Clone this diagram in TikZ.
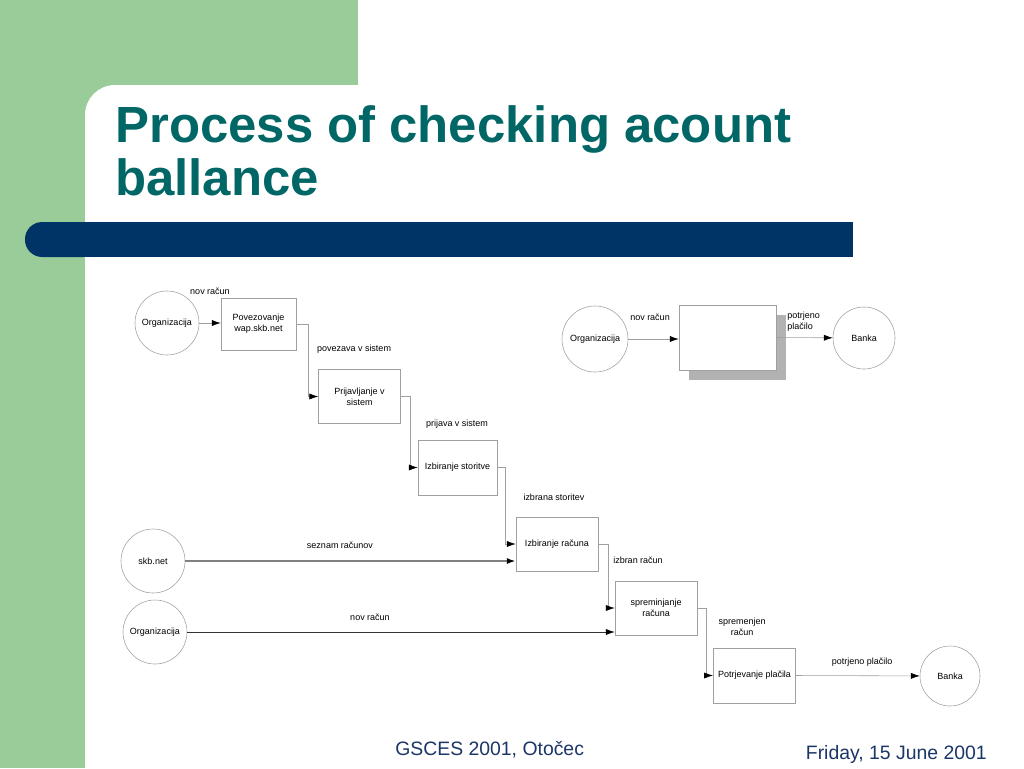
\documentclass[tikz,border=0pt]{standalone}
\usepackage{fontspec}
\setmainfont{Liberation Sans}
\usepackage{xcolor}
\usepackage{tikz}
\usetikzlibrary{positioning,calc,arrows.meta,shadows}

\definecolor{slidegreen}{HTML}{99CC99}
\definecolor{barblue}{HTML}{003366}
\definecolor{titleteal}{HTML}{006666}
\definecolor{footblue}{HTML}{1C3668}
\definecolor{linegray}{HTML}{A0A0A0}
\newcommand{\diag}{\fontsize{6.4}{7.8}\selectfont}

\begin{document}
\begin{tikzpicture}[x=0.25mm,y=-0.25mm,
    proc/.style={draw=linegray, rectangle, minimum width=20.5mm, minimum height=13.5mm, align=center, font=\diag},
    ext/.style={draw=linegray, circle, minimum size=16mm, inner sep=0pt, font=\diag},
    flow/.style={draw=linegray, -{Latex[length=2.2mm,width=1.5mm,color=black]}},
    lbl/.style={font=\diag, inner sep=0pt, align=center}]
    \useasboundingbox (0,0) rectangle (1024,768);

    % Slide background
    \fill[white] (0,0) rectangle (1024,768);
    \fill[slidegreen] (0,0) rectangle (358,768);
    \fill[white, rounded corners=7.5mm] (85,85) rectangle (1024,768);
    \fill[white] (85,300) rectangle (1024,768);
    \fill[barblue, rounded corners=4.3mm] (25,222) rectangle (100,257);
    \fill[barblue] (60,222) rectangle (853,257);

    \node[anchor=base west, text=titleteal, font=\fontsize{36.2}{40}\selectfont\bfseries, inner sep=0pt] (title1) at (115,142) {Process of checking acount};
    \node[anchor=base west, text=titleteal, font=\fontsize{36.2}{40}\selectfont\bfseries, inner sep=0pt] (title2) at (115,195) {ballance};

    % Main chain
    \node[ext] (org1) at (167,323) {Organizacija};
    \node[proc, minimum width=18.75mm, minimum height=13mm] (pov) at (258.5,324) {Povezovanje\\wap.skb.net};
    \node[proc] (prij) at (359.5,396.5) {Prijavljanje v\\sistem};
    \node[proc, minimum width=19.75mm, minimum height=13.75mm] (izs) at (457.5,467.5) {Izbiranje storitve};
    \node[proc] (izr) at (557,544) {Izbiranje računa};
    \node[proc] (spr) at (656,608) {spreminjanje\\računa};
    \node[proc, minimum height=13.75mm] (pot) at (754.5,675.5) {Potrjevanje plačila};
    \node[ext, minimum size=15mm] (bank2) at (950,676) {Banka};

    \draw[flow] (org1) -- (org1 -| pov.west);
    \node[lbl] (l1) at (210,291) {nov račun};
    \draw[flow] (pov.east) -- ++(12,0) |- (prij.west);
    \node[lbl] (l2) at (354,349) {povezava v sistem};
    \draw[flow] (prij.east) -- ++(9,0) |- (izs.west);
    \node[lbl] (l3) at (457,424) {prijava v sistem};
    \draw[flow] (izs.east) -- ++(8,0) |- (izr.west);
    \node[lbl] (l4) at (554,497) {izbrana storitev};
    \draw[flow] (izr.east) -- ++(10,0) |- (spr.west);
    \node[lbl] (l5) at (638,560) {izbran račun};
    \draw[flow] (spr.east) -- ++(9,0) |- (pot.west);
    \node[lbl] (l6) at (742,627) {spremenjen\\račun};
    \draw[flow] (pot.east) -- (bank2);
    \node[lbl] (l7) at (862,662) {potrjeno plačilo};

    % Outside sources
    \node[ext] (skb) at (153,561) {skb.net};
    \node[ext] (org3) at (155,632) {Organizacija};
    \draw[flow, draw=black!50, line width=0.5mm] (skb) -- (skb -| izr.west);
    \node[lbl] (l8) at (340,545) {seznam računov};
    \draw[flow, draw=black!80] (org3) -- (org3 -| spr.west);
    \node[lbl] (l9) at (370,617) {nov račun};

    % Overview
    \node[ext, minimum size=16.5mm] (org2) at (595,339) {Organizacija};
    \node[draw=linegray, fill=white, minimum width=24.25mm, minimum height=16.25mm,
          drop shadow={shadow xshift=2.5mm, shadow yshift=-2.5mm, fill=black!30, opacity=1}] (blank) at (727.5,337.5) {};
    \node[ext, minimum size=15.5mm] (bank1) at (864,338) {Banka};
    \draw[flow] (org2) -- (org2 -| blank.west);
    \node[lbl] (l10) at (650,317) {nov račun};
    \draw[flow] (blank.east) -- (bank1);
    \node[lbl, align=left, anchor=west] (l11) at (787,322) {potrjeno\\plačilo};

    % Footer
    \node[anchor=base west, text=footblue, font=\fontsize{13.8}{15}\selectfont, inner sep=0pt] (foot1) at (395,755) {GSCES 2001, Otočec};
    \node[anchor=base east, text=footblue, font=\fontsize{13.8}{15}\selectfont, inner sep=0pt] (foot2) at (987,759) {Friday, 15 June 2001};
\end{tikzpicture}
\end{document}
